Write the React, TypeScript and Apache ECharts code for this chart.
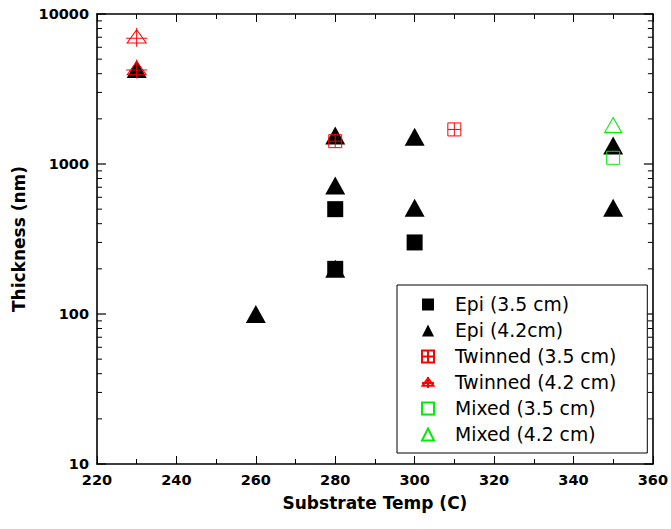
import React, { useEffect, useRef } from "react";
import * as echarts from "echarts";

const xMin = 220;
const xMax = 360;
const xInterval = 20;
const yMin = 10;
const yMax = 10000;

const epi35: number[][] = [
  [280, 500],
  [280, 200],
  [300, 300],
];
const epi42: number[][] = [
  [230, 4300],
  [260, 100],
  [280, 1550],
  [280, 720],
  [280, 200],
  [300, 1520],
  [300, 510],
  [350, 1330],
  [350, 510],
];
const twin35: number[][] = [
  [280, 1420],
  [310, 1700],
];
const twin42: number[][] = [
  [230, 7000],
  [230, 4300],
];
const mixed35: number[][] = [[350, 1100]];
const mixed42: number[][] = [[350, 1820]];

const decades = [10, 100, 1000];
const minorMultipliers = [2, 3, 4, 5, 6, 7, 8, 9];
const yMajorTicks = [10, 100, 1000, 10000];

const seriesNames = [
  "Epi (3.5 cm)",
  "Epi (4.2cm)",
  "Twinned (3.5 cm)",
  "Twinned (4.2 cm)",
  "Mixed (3.5 cm)",
  "Mixed (4.2 cm)",
];

const FONT = "DejaVu Sans";
const RED = "#ff0000";
const GREEN = "#00ee00";

const boxCross = "path://M0,0 L10,0 L10,10 L0,10 Z M5,0 L5,10 M0,5 L10,5";
const triCross = "path://M10,2 L20,16 L0,16 Z M10,0 L10,20 M-1,11 L21,11";

export default function App() {
  const ref = useRef<HTMLDivElement>(null);
  useEffect(() => {
    if (!ref.current) return;
    const chart = echarts.init(ref.current, undefined, { renderer: "svg" });
    const minorTicks: number[][] = [];
    decades.forEach((d) => minorMultipliers.forEach((m) => minorTicks.push([xMin, d * m])));
    const majorTicks: number[][] = yMajorTicks.map((v) => [xMin, v]);

    const axisLine = { show: true, lineStyle: { color: "#000", width: 1.6 } };
    const labelStyle = { color: "#000", fontFamily: FONT, fontWeight: "bold" as const, fontSize: 14.5 };

    const option: any = {
      animation: false,
      grid: { left: 97, right: 15, top: 14, bottom: 65, containLabel: false },
      xAxis: [
        {
          type: "value",
          min: xMin,
          max: xMax,
          interval: xInterval,
          position: "bottom",
          axisLine: { ...axisLine, onZero: false },
          axisTick: { show: true, inside: true, length: 8, lineStyle: { color: "#000", width: 1 } },
          minorTick: { show: true, splitNumber: 2, length: 5, lineStyle: { color: "#000", width: 1 } },
          splitLine: { show: false },
          minorSplitLine: { show: false },
          axisLabel: { ...labelStyle, margin: 8 },
          name: "Substrate Temp (C)",
          nameLocation: "middle",
          nameGap: 30,
          nameTextStyle: { color: "#000", fontFamily: FONT, fontWeight: "bold", fontSize: 17 },
        },
        {
          type: "value",
          min: xMin,
          max: xMax,
          interval: xInterval,
          position: "top",
          axisLine: { ...axisLine, onZero: false },
          axisTick: { show: true, inside: true, length: 8, lineStyle: { color: "#000", width: 1 } },
          minorTick: { show: true, splitNumber: 2, length: 5, lineStyle: { color: "#000", width: 1 } },
          splitLine: { show: false },
          axisLabel: { show: false },
        },
      ],
      yAxis: [
        {
          type: "log",
          logBase: 10,
          min: yMin,
          max: yMax,
          position: "left",
          axisLine: { ...axisLine, onZero: false },
          axisTick: { show: false },
          splitLine: { show: false },
          axisLabel: { ...labelStyle, margin: 8, formatter: (v: number) => String(Math.round(v)) },
          name: "Thickness (nm)",
          nameLocation: "middle",
          nameGap: 57,
          nameRotate: 90,
          nameTextStyle: { color: "#000", fontFamily: FONT, fontWeight: "bold", fontSize: 17 },
        },
        {
          type: "log",
          logBase: 10,
          min: yMin,
          max: yMax,
          position: "right",
          axisLine: { ...axisLine, onZero: false },
          axisTick: { show: false },
          splitLine: { show: false },
          axisLabel: { show: false },
        },
      ],
      legend: {
        orient: "vertical",
        left: 397,
        top: 285,
        data: seriesNames,
        borderColor: "#000",
        borderWidth: 1,
        backgroundColor: "#fff",
        padding: [9, 31, 8, 24],
        itemWidth: 12,
        itemHeight: 12,
        itemGap: 5,
        textStyle: { color: "#000", fontFamily: FONT, fontSize: 18.8, lineHeight: 21, padding: [0, 0, 0, 16] },
      },
      series: [
        {
          type: "custom",
          silent: true,
          clip: false,
          z: 1,
          data: minorTicks,
          renderItem: (params: any, api: any) => {
            const v = api.value(1);
            const l = api.coord([xMin, v]);
            const r = api.coord([xMax, v]);
            return {
              type: "group",
              children: [
                { type: "line", shape: { x1: l[0], y1: l[1], x2: l[0] + 5, y2: l[1] }, style: { stroke: "#000", lineWidth: 1 } },
                { type: "line", shape: { x1: r[0] - 5, y1: r[1], x2: r[0], y2: r[1] }, style: { stroke: "#000", lineWidth: 1 } },
              ],
            };
          },
        },
        {
          type: "custom",
          silent: true,
          clip: false,
          z: 1,
          data: majorTicks,
          renderItem: (params: any, api: any) => {
            const v = api.value(1);
            const l = api.coord([xMin, v]);
            const r = api.coord([xMax, v]);
            return {
              type: "group",
              children: [
                { type: "line", shape: { x1: l[0], y1: l[1], x2: l[0] + 9, y2: l[1] }, style: { stroke: "#000", lineWidth: 1.2 } },
                { type: "line", shape: { x1: r[0] - 9, y1: r[1], x2: r[0], y2: r[1] }, style: { stroke: "#000", lineWidth: 1.2 } },
              ],
            };
          },
        },
        {
          name: seriesNames[0],
          type: "scatter",
          data: epi35,
          symbol: "rect",
          symbolSize: 16,
          itemStyle: { color: "#000", opacity: 1 },
          z: 2,
        },
        {
          name: seriesNames[1],
          type: "scatter",
          data: epi42,
          symbol: "triangle",
          symbolSize: [20, 18],
          itemStyle: { color: "#000", opacity: 1 },
          z: 3,
        },
        {
          name: seriesNames[2],
          type: "scatter",
          data: twin35,
          symbol: boxCross,
          symbolSize: 13,
          itemStyle: { color: "transparent", borderColor: RED, borderWidth: 1, opacity: 1 },
          z: 4,
        },
        {
          name: seriesNames[3],
          type: "scatter",
          data: twin42,
          symbol: triCross,
          symbolSize: [21, 19],
          itemStyle: { color: "transparent", borderColor: RED, borderWidth: 1, opacity: 1 },
          z: 4,
        },
        {
          name: seriesNames[4],
          type: "scatter",
          data: mixed35,
          symbol: "rect",
          symbolSize: 13,
          itemStyle: { color: "transparent", borderColor: GREEN, borderWidth: 1, opacity: 1 },
          z: 4,
        },
        {
          name: seriesNames[5],
          type: "scatter",
          data: mixed42,
          symbol: "triangle",
          symbolSize: [17, 15],
          itemStyle: { color: "transparent", borderColor: GREEN, borderWidth: 1, opacity: 1 },
          z: 4,
        },
      ],
    };
    chart.setOption(option);
    return () => chart.dispose();
  }, []);
  return <div ref={ref} style={{ width: 671, height: 529, position: "absolute", left: 0, top: 0 }} />;
}
